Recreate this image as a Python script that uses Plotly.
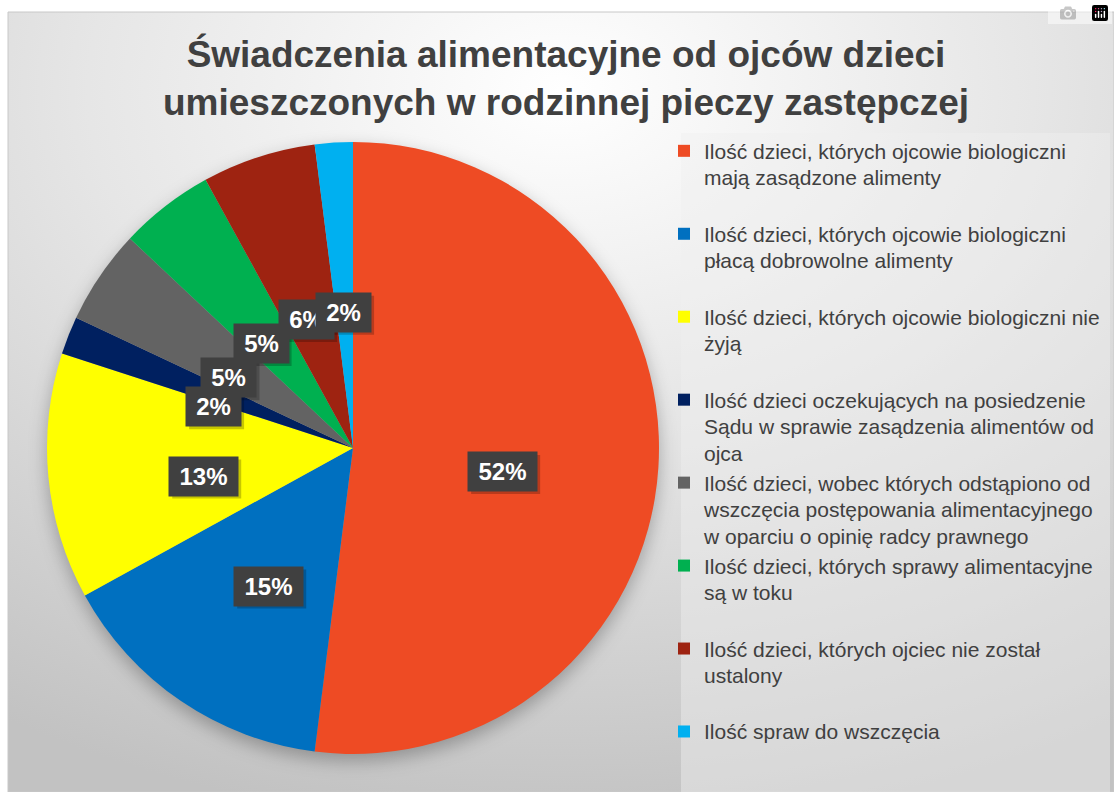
import base64
import math
import plotly.graph_objects as go

# ---------------- data ----------------
labels = [
    "Ilość dzieci, których ojcowie biologiczni|mają zasądzone alimenty",
    "Ilość dzieci, których ojcowie biologiczni|płacą dobrowolne alimenty",
    "Ilość dzieci, których ojcowie biologiczni nie|żyją",
    "Ilość dzieci oczekujących na posiedzenie|Sądu w sprawie zasądzenia alimentów od|ojca",
    "Ilość dzieci, wobec których odstąpiono od|wszczęcia postępowania alimentacyjnego|w oparciu o opinię radcy prawnego",
    "Ilość dzieci, których sprawy alimentacyjne|są w toku",
    "Ilość dzieci, których ojciec nie został|ustalony",
    "Ilość spraw do wszczęcia",
]
values = [52, 15, 13, 2, 5, 5, 6, 2]
colors = ["#EE4B24", "#0070C0", "#FFFF00", "#002060", "#636363", "#00B050", "#9E2311", "#00B0F0"]
title_text = "Świadczenia alimentacyjne od ojców dzieci<br>umieszczonych w rodzinnej pieczy zastępczej"

W, H = 1114, 792
FONT = "Liberation Sans, Arial, sans-serif"
TXT = "#404040"

# legend labels: each line in a span; multi-line entries padded to 3 lines for even spacing
def fmt_label(s, last=False):
    parts = s.split("|")
    if not last:
        while len(parts) < 3:
            parts.append(" ")
    return "<br>".join(f"<span style='font-size:21px'>{p}</span>" for p in parts)

leg_labels = [fmt_label(s, i == len(labels) - 1) for i, s in enumerate(labels)]

# pie geometry (pixels)
cx, cy_top, R = 353, 448, 306
cy = H - cy_top

fig = go.Figure()
fig.add_trace(go.Pie(
    labels=leg_labels,
    values=values,
    marker=dict(colors=colors, line=dict(width=0)),
    sort=False,
    direction="clockwise",
    rotation=0,
    textinfo="none",
    hoverinfo="label+percent",
    domain=dict(x=[(cx - R) / W, (cx + R) / W], y=[(cy - R) / H, (cy + R) / H]),
    showlegend=True,
))

# data labels at mid-angle of each slice (dark boxes with a soft shadow)
total = sum(values)
annotations = []
shadow_shapes = []
cum = 0
for v in values:
    mid = (cum + v / 2) / total
    cum += v
    th = 2 * math.pi * mid
    r = 0.49 * R
    px = cx + r * math.sin(th)
    py = cy + r * math.cos(th)
    txt = f"{round(100 * v / total)}%"
    nd = len(txt) - 1
    bw = 55 + 14 * (nd - 1)
    shadow_shapes.append(dict(type="rect", xref="paper", yref="paper",
                              xsizemode="pixel", ysizemode="pixel",
                              xanchor=px / W, yanchor=py / H,
                              x0=-bw / 2 + 3, x1=bw / 2 + 3, y0=-14 - 19.5 - 3, y1=-14 + 19.5 - 3,
                              line=dict(width=0), fillcolor="rgba(0,0,0,0.22)", layer="above"))
    annotations.append(dict(text=f"<b>{txt}</b>", font=dict(family=FONT, size=24, color="white"),
                            x=px / W, y=py / H, xref="paper", yref="paper", showarrow=False,
                            xanchor="center", yanchor="middle", width=bw, height=39, borderpad=0,
                            bgcolor="#404040", yshift=-14))

# background gradient (+ soft pie shadow) as svg image
scx, scy = cx - 8, cy_top - 12
svg = ('<svg xmlns="http://www.w3.org/2000/svg" width="1106" height="780" preserveAspectRatio="none">'
       '<defs><radialGradient id="g" cx="0.5" cy="0.1" r="0.95">'
       '<stop offset="0" stop-color="#ffffff"/><stop offset="0.45" stop-color="#e6e6e6"/>'
       '<stop offset="1" stop-color="#c2c2c2"/></radialGradient>'
       '<filter id="b" x="-20%" y="-20%" width="140%" height="140%"><feGaussianBlur stdDeviation="9"/></filter></defs>'
       '<rect width="1106" height="780" fill="url(#g)"/>'
       f'<circle cx="{scx}" cy="{scy + 7}" r="{R}" fill="#000" fill-opacity="0.28" filter="url(#b)"/>'
       '</svg>')
src = "data:image/svg+xml;base64," + base64.b64encode(svg.encode()).decode()

fig.update_layout(
    width=W, height=H,
    margin=dict(l=0, r=0, t=0, b=0),
    paper_bgcolor="white",
    font=dict(family=FONT, color=TXT),
    title=dict(text=f"<b>{title_text}</b>", x=566 / W, xanchor="center",
               y=1 - 67 / H, yanchor="middle",
               font=dict(family=FONT, size=37, color=TXT)),
    images=[dict(source=src, xref="paper", yref="paper", x=8 / W, y=1 - 12 / H,
                 sizex=(W - 8) / W, sizey=(H - 12) / H, sizing="stretch",
                 xanchor="left", yanchor="top", layer="below")],
    shapes=[
        dict(type="rect", xref="paper", yref="paper", x0=8 / W, x1=1, y0=0, y1=1 - 12 / H,
             line=dict(color="#c8c8c8", width=1), fillcolor="rgba(0,0,0,0)", layer="below"),
        dict(type="rect", xref="paper", yref="paper", x0=681 / W, x1=1110 / W, y0=0, y1=1 - 133 / H,
             line=dict(width=0), fillcolor="rgba(240,240,240,0.45)", layer="below"),
    ] + shadow_shapes,
    legend=dict(x=664 / W, y=1 - 131 / H, xanchor="left", yanchor="top",
                bgcolor="rgba(0,0,0,0)", font=dict(family=FONT, size=20.5, color=TXT),
                valign="top", itemclick=False, itemdoubleclick=False),
    annotations=annotations,
)

fig.write_html("out.html", post_script="document.body.style.margin='0';")
